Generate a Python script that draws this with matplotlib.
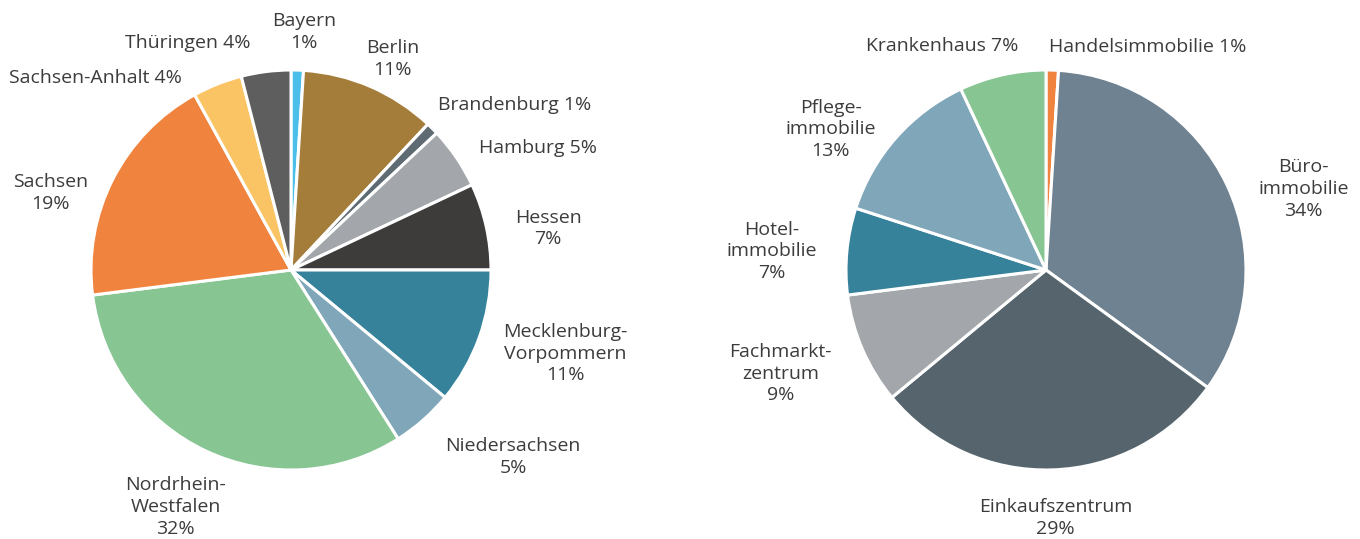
import numpy as np
import matplotlib
matplotlib.use("Agg")
import matplotlib.pyplot as plt

# ---------------- data ----------------
left_labels = ["Bayern\n1%", "Berlin\n11%", "Brandenburg 1%", "Hamburg 5%", "Hessen\n7%",
               "Mecklenburg-\nVorpommern\n11%", "Niedersachsen\n5%", "Nordrhein-\nWestfalen\n32%",
               "Sachsen\n19%", "Sachsen-Anhalt 4%", "Thüringen 4%"]
left_values = [1, 11, 1, 5, 7, 11, 5, 32, 19, 4, 4]
left_colors = ["#4BBFEA", "#A47D3A", "#5E6B73", "#A3A7AB", "#3D3C3B", "#37829B",
               "#7FA6B9", "#87C593", "#F0843F", "#FAC364", "#5E5E5E"]

right_labels = ["Handelsimmobilie 1%", "Büro-\nimmobilie\n34%", "Einkaufszentrum\n29%",
                "Fachmarkt-\nzentrum\n9%", "Hotel-\nimmobilie\n7%", "Pflege-\nimmobilie\n13%",
                "Krankenhaus 7%"]
right_values = [1, 34, 29, 9, 7, 13, 7]
right_colors = ["#F0843F", "#6F8291", "#56656D", "#A3A7AB", "#37829B", "#7FA6B9", "#87C593"]

# label nudges (pixels, x right / y down) relative to outside-end placement
left_nudges = [(5, 2), (3, 11), (-9, 0), (6, 8), (9, 11), (5, -2), (17, 2), (2, 7),
               (-7, 33), (-80, 22), (-68, 0)]
right_nudges = [(92, 6), (13, 27), (0, 8), (-12, 3), (-10, 5), (-5, 32), (-39, 0)]

W, H = 1360, 539
fig = plt.figure(figsize=(W / 100, H / 100), dpi=100)
ax = fig.add_axes([0, 0, 1, 1])

TEXT_COLOR = "#3C3C3C"
FONT = ["Open Sans", "DejaVu Sans"]
FS = 14
R = 200
GAP = 20


def draw_pie(values, colors, labels, nudges, cx, cy_img):
    cy = H - cy_img
    ax.pie(values, colors=colors, startangle=90, counterclock=False,
           center=(cx, cy), radius=R,
           wedgeprops=dict(edgecolor="white", linewidth=2.2))
    vals = np.asarray(values, dtype=float)
    frac = vals / vals.sum()
    cum = np.cumsum(frac) - frac / 2
    texts = []
    for lab, f, nd in zip(labels, cum, nudges):
        th = 2 * np.pi * f
        s, c = np.sin(th), np.cos(th)
        ax_ = cx + (R + GAP) * s
        ay_ = cy + (R + GAP) * c
        t = ax.text(ax_, ay_, lab, ha="center", va="center", multialignment="center",
                    fontsize=FS, family=FONT, color=TEXT_COLOR, linespacing=1.27)
        texts.append((t, s, c, ax_, ay_, nd))
    return texts


all_texts = []
all_texts += draw_pie(left_values, left_colors, left_labels, left_nudges, 291, 270)
all_texts += draw_pie(right_values, right_colors, right_labels, right_nudges, 1046, 270)

ax.set_xlim(0, W)
ax.set_ylim(0, H)
ax.set_aspect("auto")
ax.axis("off")

fig.canvas.draw()
renderer = fig.canvas.get_renderer()
for t, s, c, ax_, ay_, nd in all_texts:
    bb = t.get_window_extent(renderer)
    w, h = bb.width, bb.height
    m = max(abs(s), abs(c))
    sn, cn = s / m, c / m
    t.set_position((ax_ + w / 2 * sn + nd[0], ay_ + h / 2 * cn - nd[1]))

fig.savefig("out.png", dpi=100, facecolor="white")
